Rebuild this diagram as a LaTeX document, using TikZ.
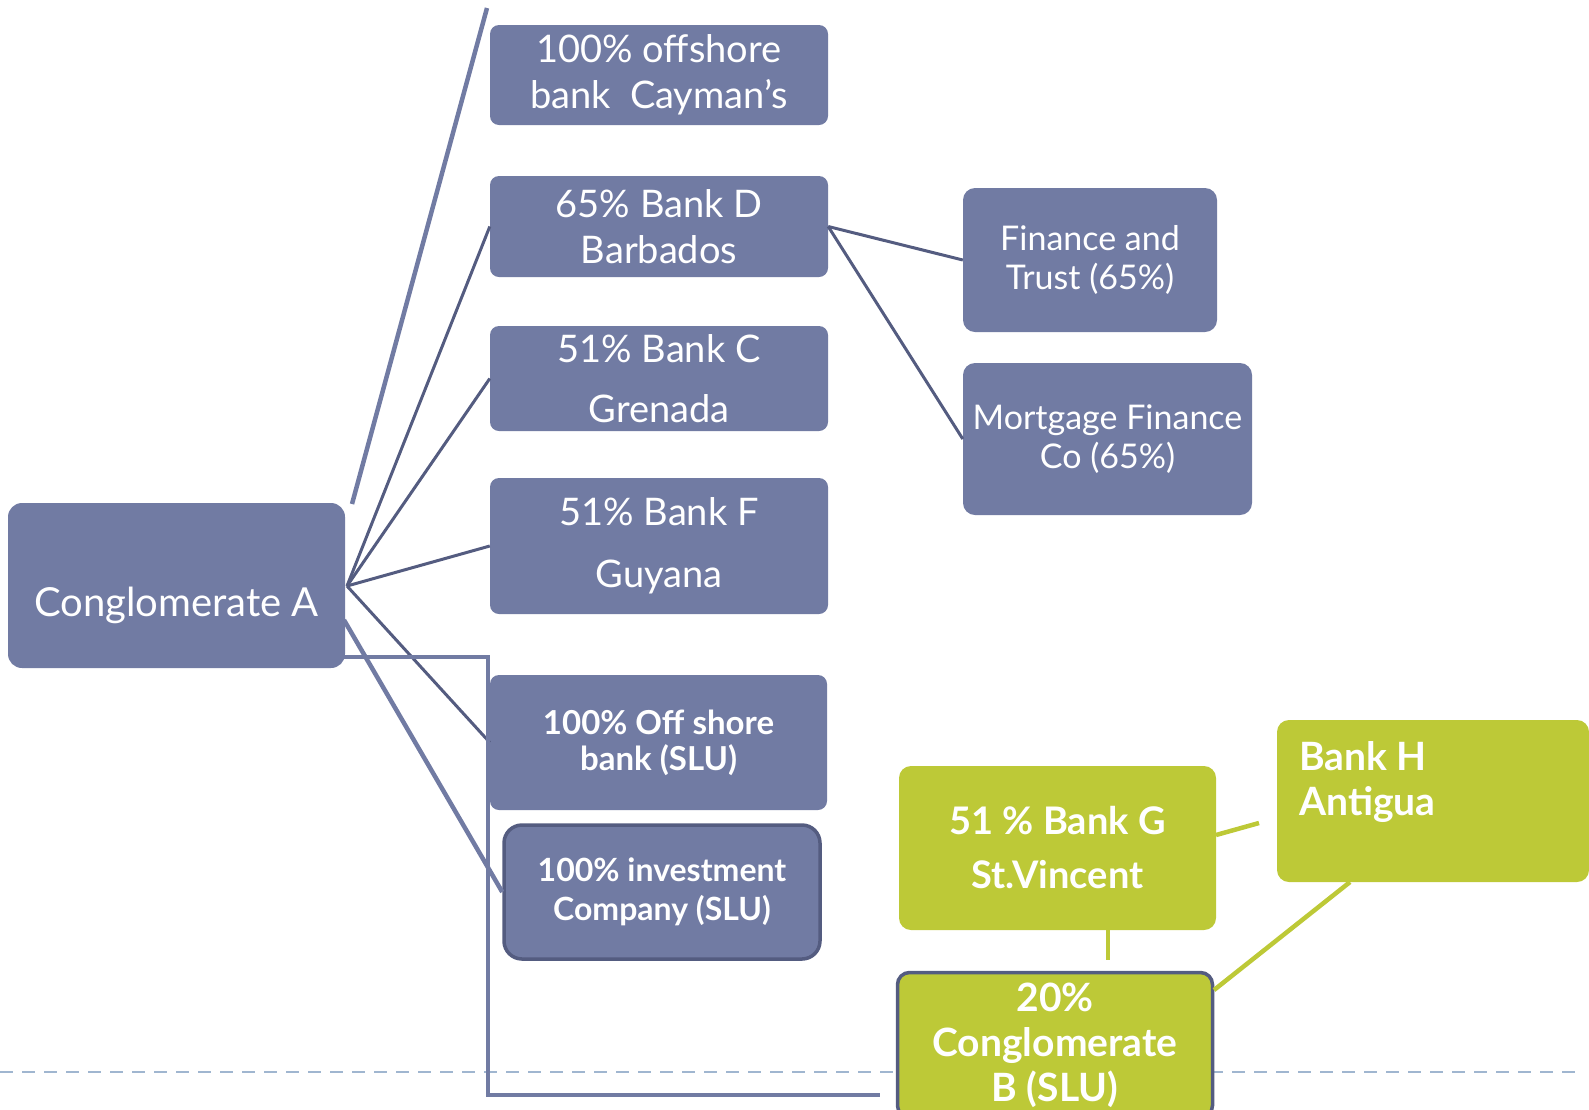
\documentclass[tikz,border=0pt]{standalone}
\usepackage{fontspec}
\setmainfont{Lato}
\definecolor{boxblue}{HTML}{717BA3}
\definecolor{darkline}{HTML}{545C80}
\definecolor{lightline}{HTML}{717BA3}
\definecolor{boxgreen}{HTML}{BDC937}
\definecolor{dashblue}{HTML}{A0B6D0}
\begin{document}
\begin{tikzpicture}[x=1pt,y=-1pt,
  box/.style={fill=boxblue, rounded corners=9pt, inner sep=0pt, text=white, align=center},
  gbox/.style={fill=boxgreen, rounded corners=12pt, inner sep=0pt, text=white, align=center},
  dconn/.style={draw=darkline, line width=3pt},
  lconn/.style={draw=lightline, line width=4.5pt},
  gconn/.style={draw=boxgreen, line width=4.5pt},
  regtext/.style={font=\fontsize{38}{46}\selectfont},
  smalltext/.style={font=\fontsize{34}{39}\selectfont},
  boldtext/.style={font=\bfseries\fontsize{33}{36}\selectfont},
  gtext/.style={font=\bfseries\fontsize{39}{45}\selectfont}
]
\useasboundingbox (0,0) rectangle (1589,1109);

% dashed baseline
\coordinate (dl) at (0,1072);
\coordinate (dr) at (1579,1072);
\draw[draw=dashblue, line width=2.2pt, dash pattern=on 13pt off 9pt] (dl) -- (dr);

% nodes
\node[box, rounded corners=14pt, minimum width=337pt, minimum height=165pt,
  label={[text=white, font=\fontsize{40}{46}\selectfont, yshift=-20pt]center:Conglomerate A}] (A) at (176.5,585.5) {};
\node[box, minimum width=338pt, minimum height=100pt, regtext] (cay) at (659,75) {100\% offshore\\bank\ \ Cayman’s};
\node[box, minimum width=338pt, minimum height=101pt, regtext] (bar) at (659,226.5) {65\% Bank D\\Barbados};
\node[box, minimum width=338pt, minimum height=105pt, font=\fontsize{38}{60}\selectfont] (gre) at (659,378.5) {51\% Bank C\\Grenada};
\node[box, minimum width=338pt, minimum height=136pt, font=\fontsize{38}{62}\selectfont] (guy) at (659,546) {51\% Bank F\\Guyana};
\node[box, minimum width=337pt, minimum height=135pt, boldtext] (slu) at (658.5,742.5) {100\% Off shore\\bank (SLU)};
\node[box, draw=darkline, line width=3.5pt, rounded corners=18pt, minimum width=316pt, minimum height=134pt, font=\bfseries\fontsize{32}{39}\selectfont] (inv) at (662,892) {100\% investment\\Company (SLU)};
\node[box, rounded corners=12pt, minimum width=254pt, minimum height=144pt, smalltext] (ft) at (1090,260) {Finance and\\Trust (65\%)};
\node[box, rounded corners=12pt, minimum width=289pt, minimum height=152pt, smalltext] (mf) at (1107.5,439) {Mortgage Finance\\Co (65\%)};

\node[gbox, minimum width=317pt, minimum height=164pt, font=\bfseries\fontsize{38}{54}\selectfont] (G) at (1057.5,848) {51 \% Bank G\\St.Vincent};
\node[gbox, minimum width=312pt, minimum height=162pt] (H) at (1433,801) {};
\node[anchor=north west, inner sep=0pt, text=white, align=left, gtext] (Ht) at (1299,741) {Bank H\\Antigua};
\node[gbox, draw=darkline, line width=3.5pt, rounded corners=12pt, minimum width=315pt, minimum height=145pt, gtext] (CB) at (1055,1045) {20\%\\Conglomerate\\B (SLU)};

% connectors from Conglomerate A
\coordinate (hub) at (347,586);
\coordinate (caystart) at (352,504);
\coordinate (caytop) at (487,8);
\draw[lconn] (caystart) -- (caytop);
\draw[dconn] (hub) -- (bar.west);
\draw[dconn] (hub) -- (gre.west);
\draw[dconn] (hub) -- (guy.west);
\draw[dconn] (hub) -- (slu.west);
\coordinate (invstart) at (344,620);
\draw[lconn] (invstart) -- (inv.west);
\coordinate (elb0) at (344,657);
\coordinate (elb1) at (488,657);
\coordinate (elb2) at (488,1095);
\coordinate (elb3) at (880,1095);
\draw[lconn] (elb0) -- (elb1) -- (elb2) -- (elb3);

% Barbados subsidiaries
\draw[dconn] (bar.east) -- (ft.west);
\draw[dconn] (bar.east) -- (mf.west);

% green connectors
\coordinate (gh1) at (1216,835);
\coordinate (gh2) at (1259,823);
\draw[gconn] (gh1) -- (gh2);
\coordinate (gb1) at (1108,930);
\coordinate (gb2) at (1108,960);
\draw[gconn] (gb1) -- (gb2);
\coordinate (hb1) at (1350,882);
\coordinate (hb2) at (1214,990);
\draw[gconn] (hb1) -- (hb2);
\end{tikzpicture}
\end{document}
